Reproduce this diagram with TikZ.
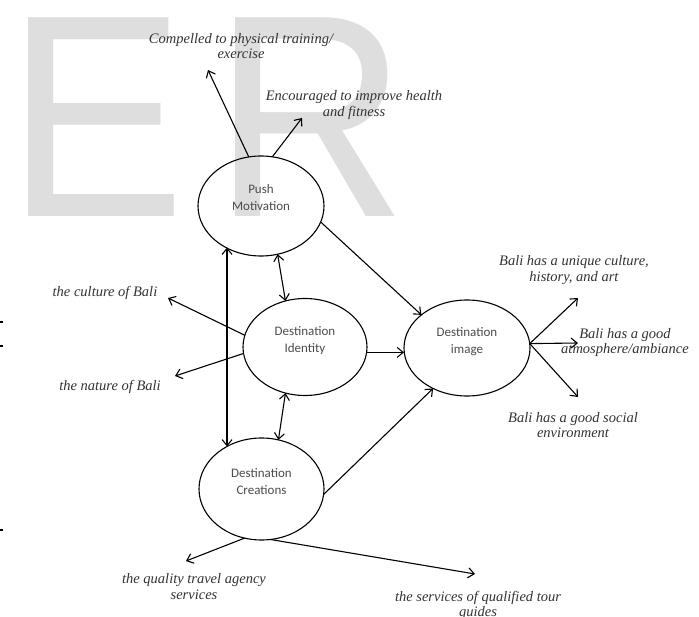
\documentclass[tikz,border=0pt]{standalone}
\usepackage{fontspec}
\setmainfont{Liberation Serif}
\newfontfamily\wmfont{Liberation Sans}
\newfontfamily\ellfont{Carlito}
\usetikzlibrary{shapes.geometric,arrows.meta}
\begin{document}
\begin{tikzpicture}[x=1pt,y=-1pt,
  ell/.style={draw, ellipse, line width=1.1pt, minimum width=126pt, minimum height=100pt, inner sep=0pt, outer sep=0pt},
  ellab/.style={font=\ellfont\fontsize{13}{17}\selectfont, text=black!70, align=center, inner sep=0pt},
  lab/.style={font=\itshape\fontsize{14.5}{15.5}\selectfont, text=black!80, align=center, inner sep=0pt},
  arr/.style={line width=1.1pt, -{Straight Barb[length=6pt,width=10pt]}},
  dbl/.style={line width=1.1pt, {Straight Barb[length=6pt,width=10pt]}-{Straight Barb[length=6pt,width=10pt]}},
  wm/.style={text=black!13, inner sep=0pt, font=\wmfont\fontsize{289}{289}\selectfont, anchor=base west},
  tick/.style={fill=black, draw=none}]
\useasboundingbox[fill=white] (0,0) rectangle (699,617);
% watermark
\node[wm] (wmE) at (6.6,217) {\scalebox{0.93}[1]{E}};
\node[wm] (wmR) at (213,217) {\scalebox{0.93}[1]{R}};
% edge ticks
\fill[tick] (0,321) rectangle (3,323);
\fill[tick] (0,345) rectangle (3,347);
\fill[tick] (0,529) rectangle (3,531);
% ellipses
\node[ell, label={[ellab, yshift=8pt]center:Push\\Motivation}] (push) at (261,206) {};
\node[ell, minimum width=124pt, minimum height=97pt, label={[ellab, yshift=6pt]center:Destination\\Identity}] (ident) at (305,347) {};
\node[ell, minimum width=126pt, minimum height=96pt, label={[ellab, yshift=6.5pt]center:Destination\\image}] (img) at (467,348) {};
\node[ell, minimum width=125pt, minimum height=102pt, label={[ellab, yshift=7pt]center:Destination\\Creations}] (cre) at (261.5,489) {};
% labels
\node[lab] (comp) at (241,46) {Compelled to physical training/\\exercise};
\node[lab] (enc) at (354,105) {Encouraged to improve health\\and fitness};
\node[lab] (cult) at (105,293) {the culture of Bali};
\node[lab] (nat) at (110,387) {the nature of Bali};
\node[lab] (uniq) at (574,270) {Bali has a unique culture,\\history, and art};
\node[lab] (atm) at (625,342.5) {Bali has a good\\atmosphere/ambiance};
\node[lab] (soc) at (573,425) {Bali has a good social\\environment};
\node[lab] (qual) at (194,586.5) {the quality travel agency\\services};
\node[lab] (serv) at (478,605.5) {the services of qualified tour\\guides};
% arrow tips
\coordinate (tComp) at (208,70);
\coordinate (tEnc) at (302,118);
\coordinate (tCult) at (168,298);
\coordinate (tNat) at (175,376);
\coordinate (tUniq) at (578,298);
\coordinate (tAtm) at (578,343);
\coordinate (tSoc) at (578,397);
\coordinate (tQual) at (186,561);
\coordinate (tServ) at (475,574);
% connectors
\draw[arr] (push.104) -- (tComp);
\draw[arr] (push.77) -- (tEnc);
\draw[arr] (push.-15) -- (img.144);
\draw[dbl] (push.-71) -- (ident.113);
\draw[dbl] (push.-130 -| cre.129) -- (cre.129);
\draw[dbl] (ident.-113) -- (cre.71);
\draw[arr] (ident.169) -- (tCult);
\draw[arr] (ident.-174) -- (tNat);
\draw[arr] (ident.-5) -- (ident.-5 -| img.west);
\draw[arr] (cre.-5) -- (img.230);
\draw[arr] (img.4) -- (tUniq);
\draw[arr] (img.4) -- (tAtm);
\draw[arr] (img.4) -- (tSoc);
\draw[arr] (cre.-109) -- (tQual);
\draw[arr] (cre.-80) -- (tServ);
\end{tikzpicture}
\end{document}
